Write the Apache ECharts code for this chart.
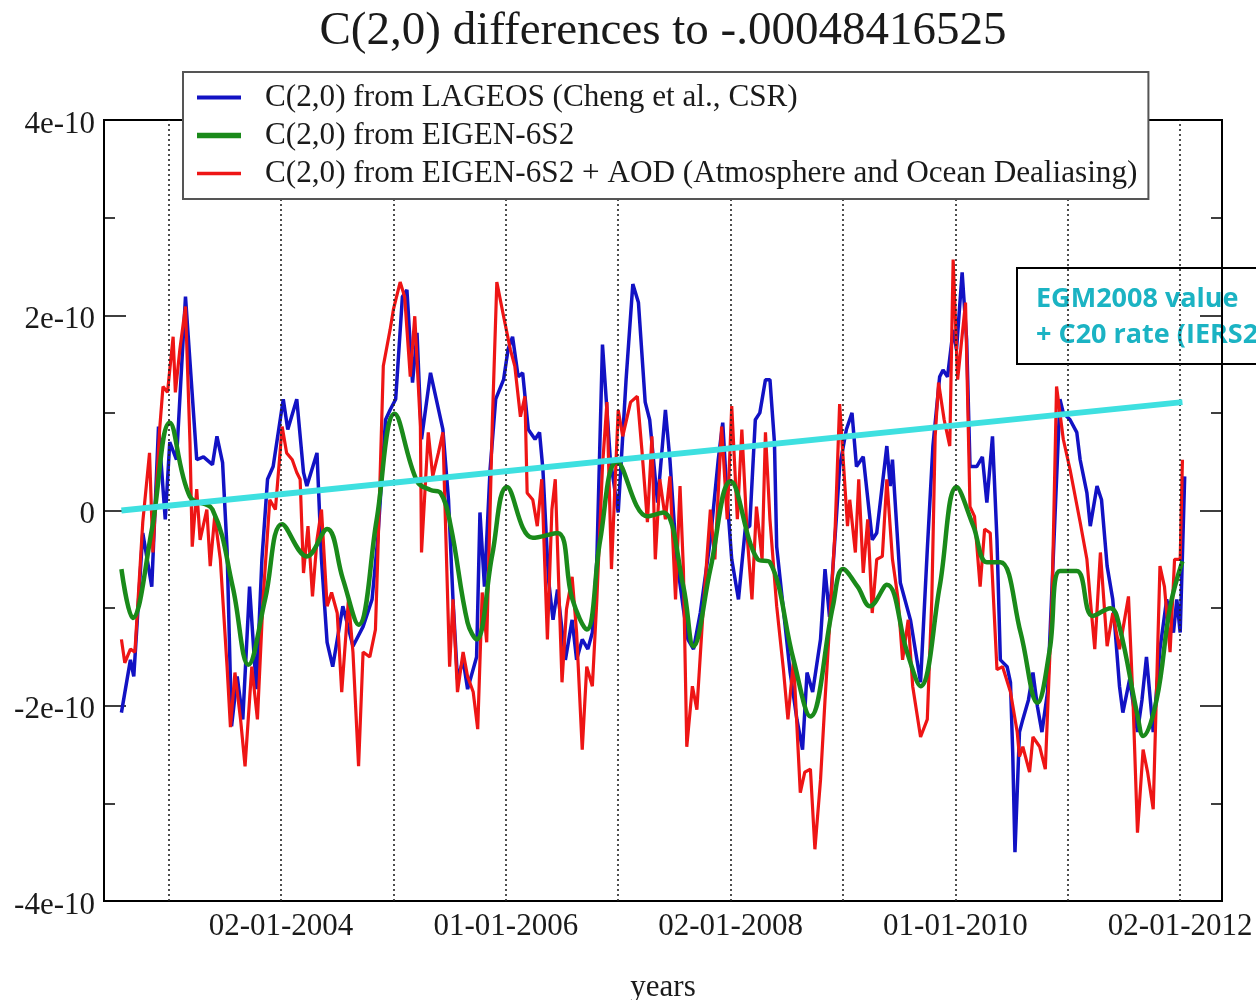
<!DOCTYPE html>
<html><head><meta charset="utf-8">
<script src="https://cdn.jsdelivr.net/npm/echarts@6/dist/echarts.min.js"></script>
<style>html,body{margin:0;padding:0;background:#fff}#c{width:1256px;height:1000px}</style>
</head><body><div id="c"></div>
<script>
// ---- text ----
const titleText = 'C(2,0) differences to -.00048416525';
const seriesNames = [
  'C(2,0) from LAGEOS (Cheng et al., CSR)',
  'C(2,0) from EIGEN-6S2',
  'C(2,0) from EIGEN-6S2 + AOD (Atmosphere and Ocean Dealiasing)'
];
const xAxisName = 'years';
const xTickValues = [2004, 2006, 2008, 2010, 2012];
const xTickLabels = ['02-01-2004', '01-01-2006', '02-01-2008', '01-01-2010', '02-01-2012'];
const yearGridLines = [2003, 2004, 2005, 2006, 2007, 2008, 2009, 2010, 2011, 2012];
const yTickValues = [-4, -2, 0, 2, 4];            // in units of 1e-10
const yTickLabels = ['-4e-10', '-2e-10', '0', '2e-10', '4e-10'];
const noteLines = ['EGM2008 value', '+ C20 rate (IERS2010)'];

// ---- data: [decimal year, value in 1e-10] ----
const lageos = [[2002.58,-2.07],[2002.66,-1.53],[2002.69,-1.70],[2002.77,-0.23],[2002.85,-0.78],[2002.91,0.86],[2002.97,-0.09],[2003.01,0.70],[2003.07,0.52],[2003.15,2.19],[2003.25,0.52],[2003.31,0.55],[2003.39,0.47],[2003.43,0.76],[2003.48,0.49],[2003.52,-0.40],[2003.56,-2.21],[2003.61,-1.70],[2003.66,-2.14],[2003.72,-0.78],[2003.78,-1.83],[2003.83,-0.50],[2003.88,0.32],[2003.93,0.45],[2004.02,1.14],[2004.06,0.83],[2004.14,1.14],[2004.20,0.39],[2004.23,0.25],[2004.32,0.59],[2004.36,-0.50],[2004.41,-1.35],[2004.46,-1.60],[2004.55,-0.98],[2004.64,-1.39],[2004.73,-1.19],[2004.81,-0.91],[2004.86,-0.30],[2004.93,0.93],[2004.97,1.03],[2005.02,1.14],[2005.08,2.19],[2005.12,2.26],[2005.17,1.31],[2005.21,1.82],[2005.25,0.73],[2005.33,1.41],[2005.44,0.83],[2005.49,0.11],[2005.53,-0.91],[2005.57,-1.73],[2005.62,-1.53],[2005.66,-1.83],[2005.74,-1.50],[2005.77,-0.02],[2005.81,-0.78],[2005.86,0.42],[2005.91,1.14],[2005.98,1.34],[2006.02,1.65],[2006.06,1.78],[2006.11,1.37],[2006.15,1.41],[2006.20,0.83],[2006.26,0.73],[2006.30,0.80],[2006.33,0.42],[2006.38,-0.71],[2006.42,-1.12],[2006.46,-0.81],[2006.53,-1.53],[2006.59,-1.12],[2006.63,-1.53],[2006.68,-1.32],[2006.73,-1.42],[2006.77,-1.25],[2006.81,-0.50],[2006.86,1.70],[2006.93,0.52],[2007.00,-0.02],[2007.07,1.34],[2007.13,2.32],[2007.18,2.13],[2007.24,1.11],[2007.28,0.93],[2007.35,0.08],[2007.42,1.03],[2007.46,0.52],[2007.52,-0.50],[2007.58,-1.01],[2007.62,-1.32],[2007.67,-1.42],[2007.73,-1.05],[2007.82,-0.30],[2007.89,0.52],[2007.93,0.90],[2007.97,0.11],[2008.01,-0.50],[2008.07,-0.91],[2008.13,-0.19],[2008.17,-0.16],[2008.22,0.93],[2008.26,1.00],[2008.31,1.34],[2008.35,1.34],[2008.39,0.70],[2008.41,-0.37],[2008.46,-0.91],[2008.53,-1.66],[2008.59,-2.14],[2008.64,-2.45],[2008.68,-1.66],[2008.73,-1.86],[2008.80,-1.32],[2008.84,-0.60],[2008.88,-1.09],[2008.94,-0.09],[2008.97,0.45],[2009.03,0.83],[2009.08,1.00],[2009.12,0.45],[2009.18,0.55],[2009.26,-0.30],[2009.30,-0.23],[2009.39,0.66],[2009.42,0.25],[2009.44,0.52],[2009.51,-0.74],[2009.60,-1.12],[2009.69,-1.76],[2009.75,-0.40],[2009.80,0.66],[2009.86,1.37],[2009.89,1.44],[2009.93,1.37],[2009.98,1.85],[2010.01,1.65],[2010.06,2.44],[2010.10,1.75],[2010.13,0.45],[2010.19,0.45],[2010.24,0.55],[2010.28,0.08],[2010.33,0.76],[2010.37,-0.30],[2010.40,-1.53],[2010.46,-1.60],[2010.49,-1.76],[2010.51,-2.48],[2010.53,-3.50],[2010.57,-2.27],[2010.60,-2.14],[2010.65,-1.94],[2010.69,-1.66],[2010.73,-2.01],[2010.77,-2.27],[2010.82,-1.86],[2010.87,-0.50],[2010.93,1.14],[2010.96,1.00],[2011.02,0.93],[2011.08,0.80],[2011.11,0.52],[2011.17,0.18],[2011.20,-0.16],[2011.26,0.25],[2011.30,0.11],[2011.35,-0.57],[2011.40,-0.91],[2011.46,-1.80],[2011.49,-2.07],[2011.55,-1.73],[2011.62,-2.27],[2011.66,-1.94],[2011.70,-1.50],[2011.76,-2.27],[2011.82,-1.42],[2011.88,-0.91],[2011.94,-1.25],[2011.97,-0.91],[2012.00,-1.25],[2012.04,0.35]];

const eigen = [[2002.58,-0.60],[2002.68,-1.10],[2002.85,-0.20],[2003.01,0.90],[2003.19,0.14],[2003.39,0.01],[2003.57,-0.78],[2003.71,-1.58],[2003.86,-0.90],[2004.01,-0.14],[2004.23,-0.47],[2004.41,-0.19],[2004.55,-0.70],[2004.69,-1.17],[2004.85,-0.10],[2005.01,0.99],[2005.21,0.30],[2005.33,0.21],[2005.42,0.18],[2005.51,-0.16],[2005.66,-1.15],[2005.74,-1.32],[2005.88,-0.45],[2006.01,0.24],[2006.24,-0.28],[2006.46,-0.23],[2006.59,-0.90],[2006.72,-1.22],[2006.84,-0.30],[2006.99,0.50],[2007.26,-0.06],[2007.40,-0.02],[2007.58,-0.78],[2007.67,-1.39],[2007.82,-0.60],[2008.00,0.30],[2008.24,-0.50],[2008.35,-0.53],[2008.56,-1.53],[2008.71,-2.11],[2008.91,-0.98],[2009.00,-0.60],[2009.13,-0.78],[2009.24,-0.98],[2009.39,-0.76],[2009.57,-1.45],[2009.69,-1.80],[2009.86,-0.78],[2010.01,0.24],[2010.16,-0.16],[2010.28,-0.53],[2010.40,-0.53],[2010.58,-1.25],[2010.73,-1.97],[2010.84,-1.42],[2010.93,-0.62],[2011.08,-0.62],[2011.22,-1.08],[2011.38,-1.00],[2011.46,-1.19],[2011.62,-2.10],[2011.67,-2.31],[2011.79,-1.94],[2011.91,-0.99],[2012.02,-0.52]];

const eigenAod = [[2002.58,-1.32],[2002.61,-1.56],[2002.66,-1.42],[2002.70,-1.45],[2002.77,-0.12],[2002.83,0.59],[2002.86,-0.43],[2002.92,0.83],[2002.95,1.27],[2002.99,1.21],[2003.04,1.78],[2003.06,1.21],[2003.10,1.65],[2003.15,2.09],[2003.19,0.70],[2003.21,-0.37],[2003.25,0.22],[2003.28,-0.30],[2003.34,0.01],[2003.37,-0.57],[2003.41,-0.06],[2003.46,-0.50],[2003.52,-1.60],[2003.55,-2.22],[2003.59,-1.66],[2003.64,-2.14],[2003.68,-2.62],[2003.74,-1.60],[2003.79,-2.14],[2003.84,-0.91],[2003.90,0.11],[2003.95,0.01],[2004.01,0.86],[2004.05,0.59],[2004.10,0.52],[2004.14,0.39],[2004.17,0.32],[2004.20,-0.64],[2004.24,-0.16],[2004.28,-0.88],[2004.32,-0.30],[2004.36,0.01],[2004.41,-0.98],[2004.45,-0.84],[2004.50,-1.05],[2004.54,-1.86],[2004.60,-0.91],[2004.64,-1.45],[2004.69,-2.62],[2004.73,-1.45],[2004.79,-1.50],[2004.84,-1.22],[2004.86,-0.50],[2004.91,1.48],[2004.97,1.85],[2005.00,2.06],[2005.06,2.34],[2005.10,2.19],[2005.15,1.37],[2005.19,1.99],[2005.24,0.86],[2005.25,-0.43],[2005.31,0.80],[2005.35,0.35],[2005.40,0.59],[2005.44,0.80],[2005.50,-1.60],[2005.53,-0.91],[2005.57,-1.86],[2005.62,-1.45],[2005.66,-1.70],[2005.71,-1.86],[2005.75,-2.24],[2005.79,-0.84],[2005.83,-1.35],[2005.88,0.90],[2005.92,2.34],[2005.98,1.99],[2006.04,1.65],[2006.08,1.48],[2006.13,0.96],[2006.17,1.17],[2006.19,0.18],[2006.24,0.11],[2006.28,-0.16],[2006.32,0.32],[2006.37,-1.32],[2006.41,0.01],[2006.44,0.32],[2006.50,-1.76],[2006.54,-1.01],[2006.59,-0.68],[2006.63,-1.25],[2006.68,-2.45],[2006.72,-1.60],[2006.77,-1.80],[2006.81,-0.91],[2006.86,0.45],[2006.90,1.11],[2006.94,-0.60],[2007.00,1.03],[2007.04,0.76],[2007.11,1.11],[2007.17,1.17],[2007.21,0.63],[2007.26,-0.12],[2007.30,0.76],[2007.33,-0.50],[2007.37,0.32],[2007.42,-0.09],[2007.46,0.35],[2007.51,-0.91],[2007.55,0.25],[2007.58,-0.60],[2007.61,-2.42],[2007.66,-1.80],[2007.70,-2.04],[2007.75,-1.12],[2007.82,0.01],[2007.86,-0.50],[2007.92,0.86],[2007.97,-0.09],[2008.01,1.07],[2008.06,-0.09],[2008.10,0.83],[2008.15,-0.30],[2008.19,-0.91],[2008.23,0.04],[2008.28,-0.50],[2008.31,0.80],[2008.35,-0.09],[2008.41,-0.98],[2008.47,-1.63],[2008.51,-2.14],[2008.56,-1.53],[2008.62,-2.89],[2008.66,-2.68],[2008.71,-2.65],[2008.75,-3.47],[2008.80,-2.76],[2008.84,-1.94],[2008.88,-1.19],[2008.93,-0.19],[2008.97,1.09],[2009.04,-0.16],[2009.06,0.11],[2009.11,-0.43],[2009.14,0.32],[2009.18,-0.64],[2009.22,-0.09],[2009.26,-1.05],[2009.30,-0.50],[2009.35,-0.47],[2009.39,0.32],[2009.44,-0.50],[2009.49,-0.91],[2009.53,-1.53],[2009.58,-1.12],[2009.62,-1.80],[2009.69,-2.32],[2009.75,-2.14],[2009.79,-0.91],[2009.82,0.76],[2009.85,1.31],[2009.90,0.93],[2009.95,0.66],[2009.98,2.57],[2010.02,1.34],[2010.09,2.13],[2010.13,0.04],[2010.17,-0.06],[2010.22,-0.78],[2010.26,-0.19],[2010.31,-0.23],[2010.37,-1.63],[2010.42,-1.60],[2010.49,-1.86],[2010.55,-2.27],[2010.57,-2.52],[2010.60,-2.42],[2010.66,-2.68],[2010.69,-2.32],[2010.75,-2.42],[2010.80,-2.65],[2010.86,-0.91],[2010.90,1.27],[2010.96,0.73],[2011.02,0.42],[2011.11,-0.12],[2011.17,-0.50],[2011.20,-0.91],[2011.24,-1.42],[2011.29,-0.43],[2011.35,-1.39],[2011.40,-1.05],[2011.46,-1.42],[2011.54,-0.88],[2011.58,-1.94],[2011.62,-3.30],[2011.67,-2.45],[2011.71,-2.68],[2011.76,-3.06],[2011.82,-0.57],[2011.86,-0.78],[2011.91,-1.45],[2011.95,-0.50],[2012.00,-0.50],[2012.02,0.52]];

const trend = [[2002.58,0.00],[2012.02,1.11]];

// ---- chart ----
const serif = 'Liberation Serif';
const ink = '#1a1a1a';
const chart = echarts.init(document.getElementById('c'), null, {renderer: 'canvas'});

function yAxisDef(pos, showLabel) {
  return {
    type: 'value', position: pos, min: -4, max: 4, interval: 2,
    axisLine: {show: true, onZero: false, lineStyle: {color: '#000', width: 2}},
    axisTick: {show: true, inside: true, length: 22, lineStyle: {color: '#000', width: 1.5}},
    minorTick: {show: true, splitNumber: 2, length: 11, lineStyle: {color: '#000', width: 1.5}},
    splitLine: {show: false}, minorSplitLine: {show: false},
    axisLabel: {
      show: showLabel, margin: 9, color: ink, fontFamily: serif, fontSize: 31,
      formatter: v => { const i = yTickValues.indexOf(Math.round(v)); return i >= 0 ? '{t|' + yTickLabels[i] + '}' : ''; },
      rich: {t: {fontFamily: serif, fontSize: 31, color: ink, padding: [9, 0, 0, 0]}}
    }
  };
}

chart.setOption({
  animation: false,
  backgroundColor: '#fff',
  title: {
    text: titleText, left: 663, top: 8, padding: 0, textAlign: 'center',
    textStyle: {fontFamily: serif, fontSize: 47, fontWeight: 'normal', color: ink}
  },
  grid: {left: 104, right: 34, top: 120, bottom: 99, outerBoundsMode: 'none', containLabel: false,
         show: true, borderColor: '#000', borderWidth: 2, backgroundColor: 'transparent'},
  legend: {
    orient: 'vertical', left: 183, top: 72,
    data: [
      {name: seriesNames[0], icon: 'path://M0,0H44V4H0Z'},
      {name: seriesNames[1], icon: 'path://M0,0H44V5.5H0Z'},
      {name: seriesNames[2], icon: 'path://M0,0H44V3.5H0Z'}
    ],
    symbolKeepAspect: true,
    itemWidth: 44, itemHeight: 14, itemGap: 7,
    padding: [10, 11, 10, 14],
    backgroundColor: '#fff', borderColor: '#555', borderWidth: 2,
    textStyle: {fontFamily: serif, fontSize: 31.2, color: ink, padding: [0, 0, 0, 19]},
    z: 20
  },
  xAxis: {
    type: 'value', min: 2002.425, max: 2012.372,
    axisLine: {show: true, onZero: false, lineStyle: {color: '#000', width: 2}},
    axisTick: {show: false}, splitLine: {show: false},
    axisLabel: {
      customValues: xTickValues, margin: 10, color: ink, fontFamily: serif, fontSize: 31,
      formatter: v => { const i = xTickValues.indexOf(v); return i >= 0 ? xTickLabels[i] : ''; }
    },
    name: xAxisName, nameLocation: 'middle', nameGap: 71,
    nameTextStyle: {fontFamily: serif, fontSize: 31, color: ink}
  },
  yAxis: [yAxisDef('left', true), yAxisDef('right', false)],
  series: [
    {
      name: seriesNames[0], type: 'line', data: lageos, symbol: 'none', z: 2,
      color: '#1212c4', lineStyle: {color: '#1212c4', width: 3.5},
      markLine: {
        silent: true, symbol: ['none', 'none'], label: {show: false},
        lineStyle: {color: '#222', type: [2, 3], width: 1.6},
        data: yearGridLines.map(y => ({xAxis: y}))
      }
    },
    {
      name: seriesNames[2], type: 'line', data: eigenAod, symbol: 'none', z: 3,
      color: '#ee1515', lineStyle: {color: '#ee1515', width: 3.2}
    },
    {
      name: seriesNames[1], type: 'line', data: eigen, symbol: 'none', z: 4, smooth: 0.4,
      color: '#1a8a1a', lineStyle: {color: '#1a8a1a', width: 4.5}
    },
    {
      name: 'trend', type: 'line', data: trend, symbol: 'none', z: 5,
      color: '#3ee0e0', lineStyle: {color: '#3ee0e0', width: 6}
    }
  ],
  graphic: [{
    type: 'group', left: 1016, top: 267, z: 50,
    children: [
      {type: 'rect', shape: {x: 0, y: 0, width: 300, height: 96}, style: {fill: '#fff', stroke: '#000', lineWidth: 2}},
      {type: 'text', x: 19, y: 31, style: {text: noteLines[0], fill: '#1bb3c3', font: 'bold 27px "Open Sans"', verticalAlign: 'middle'}},
      {type: 'text', x: 19, y: 67, style: {text: noteLines[1], fill: '#1bb3c3', font: 'bold 27px "Open Sans"', verticalAlign: 'middle'}}
    ]
  }]
});
</script></body></html>
